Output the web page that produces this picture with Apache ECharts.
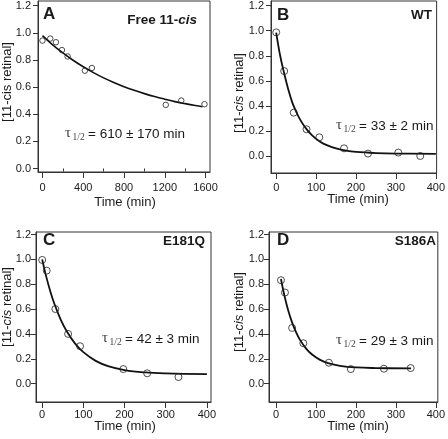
<!DOCTYPE html>
<html>
<head>
<meta charset="utf-8">
<script src="https://cdn.jsdelivr.net/npm/echarts@6/dist/echarts.min.js"></script>
<style>html,body{margin:0;padding:0;background:#fff}#c{width:448px;height:439px}</style>
</head>
<body>
<div id="c"></div>
<script>
// ---- Data ----
// Panel A: Free 11-cis
const aTime = [0, 76, 132, 191, 247, 416, 485, 1210, 1362, 1590];
const aVal  = [0.943, 0.958, 0.931, 0.873, 0.826, 0.721, 0.741, 0.469, 0.501, 0.474];
const aFitTime = [0, 100, 200, 300, 400, 500, 600, 700, 800, 900, 1000, 1100, 1200, 1300, 1400, 1500, 1570];
const aFitVal  = [0.98, 0.912, 0.852, 0.798, 0.750, 0.707, 0.668, 0.634, 0.603, 0.576, 0.552, 0.530, 0.511, 0.493, 0.478, 0.464, 0.455];
// Panel B: WT
const bTime = [0, 20, 44, 76, 108, 170, 230, 306, 361];
const bVal  = [0.987, 0.678, 0.346, 0.213, 0.149, 0.061, 0.019, 0.027, 0.0];
const bFitTime = [0, 10, 20, 30, 40, 50, 60, 75, 90, 110, 130, 150, 175, 200, 250, 300, 400];
const bFitVal  = [0.985, 0.80, 0.66, 0.535, 0.43, 0.355, 0.29, 0.218, 0.165, 0.114, 0.082, 0.06, 0.042, 0.032, 0.023, 0.019, 0.017];
// Panel C: E181Q
const cTime = [0, 11, 32, 63, 92, 197, 255, 331];
const cVal  = [0.995, 0.909, 0.60, 0.40, 0.301, 0.117, 0.083, 0.053];
const cFitTime = [0, 10, 20, 30, 45, 60, 80, 100, 130, 160, 200, 250, 300, 400];
const cFitVal  = [1.0, 0.859, 0.74, 0.639, 0.515, 0.419, 0.322, 0.253, 0.183, 0.141, 0.109, 0.09, 0.082, 0.076];
// Panel D: S186A
const dTime = [12, 22, 40, 68, 132, 187, 270, 337];
const dVal  = [0.832, 0.733, 0.448, 0.325, 0.168, 0.117, 0.12, 0.125];
const dFitTime = [12, 20, 30, 40, 50, 60, 75, 90, 110, 130, 160, 200, 250, 338];
const dFitVal  = [0.842, 0.717, 0.59, 0.491, 0.412, 0.35, 0.282, 0.234, 0.191, 0.165, 0.143, 0.13, 0.125, 0.122];

// Tick labels
const yTicks = [0, 0.2, 0.4, 0.6, 0.8, 1.0, 1.2];
const aXTicks = [0, 400, 800, 1200, 1600];
const aXMinor = [200, 600, 1000, 1400];
const bcdXTicks = [0, 100, 200, 300, 400];

const panelLetters = ['A', 'B', 'C', 'D'];
const panelNames = ['Free 11-', 'WT', 'E181Q', 'S186A'];
const tauTexts = ['= 610 ± 170 min', '= 33 ± 2 min', '= 42 ± 3 min', '= 29 ± 3 min'];

// ---- Build ----
const SANS = '"Liberation Sans", Arial, Helvetica, sans-serif';
const SERIF = '"Liberation Serif", "Times New Roman", serif';
const INK = '#1a1a1a';
const BOX = '#333';

const grids = [
  {left: 38, top: 1, width: 172, height: 171},
  {left: 271, top: 1, width: 169, height: 172},
  {left: 36, top: 232, width: 175, height: 170},
  {left: 269, top: 232, width: 173, height: 170}
].map(g => Object.assign({show: true, borderColor: BOX, borderWidth: 1, backgroundColor: 'transparent'}, g));

const xRanges = [[-44, 1644], [-13, 402], [-15, 410], [-18, 405]];
const yRanges = [[-0.026, 1.235], [-0.136, 1.2375], [-0.148, 1.22], [-0.148, 1.22]];
const xLabelMargin = [10, 9, 7, 7];
const yLabelMargin = [7, 7, 5, 5];

const xAxes = xRanges.map((r, i) => {
  const ticks = i === 0 ? aXTicks : bcdXTicks;
  return {
    gridIndex: i, type: 'value', min: r[0], max: r[1], position: 'bottom',
    axisLine: {show: true, onZero: false, lineStyle: {color: BOX, width: 1}},
    axisTick: {show: true, customValues: ticks, length: 6, lineStyle: {color: BOX}},
    axisLabel: {customValues: ticks, fontSize: 11, color: INK, fontFamily: SANS, margin: xLabelMargin[i],
                formatter: v => String(Math.round(v))},
    splitLine: {show: false}
  };
});
// minor ticks for panel A
xAxes.push({
  gridIndex: 0, type: 'value', min: xRanges[0][0], max: xRanges[0][1], position: 'bottom',
  axisLine: {show: false},
  axisTick: {show: true, customValues: aXMinor, length: 3, lineStyle: {color: BOX}},
  axisLabel: {show: false}, splitLine: {show: false}
});

const yAxes = yRanges.map((r, i) => ({
  gridIndex: i, type: 'value', min: r[0], max: r[1],
  axisLine: {show: true, onZero: false, lineStyle: {color: BOX, width: 1}},
  axisTick: {show: true, customValues: yTicks, length: 5, lineStyle: {color: BOX}},
  axisLabel: {customValues: yTicks, fontSize: 11, color: INK, fontFamily: SANS, margin: yLabelMargin[i],
              formatter: v => v.toFixed(1)},
  splitLine: {show: false}
}));

const pts = [[aTime, aVal], [bTime, bVal], [cTime, cVal], [dTime, dVal]];
const fits = [[aFitTime, aFitVal], [bFitTime, bFitVal], [cFitTime, cFitVal], [dFitTime, dFitVal]];
const zip = (xs, ys) => xs.map((x, k) => [x, ys[k]]);

const series = [];
fits.forEach((f, i) => {
  series.push({
    type: 'line', xAxisIndex: i, yAxisIndex: i, data: zip(f[0], f[1]),
    smooth: 0.4, showSymbol: false, symbol: 'none',
    lineStyle: {color: '#111', width: i === 0 ? 1.6 : 1.8}, z: 2, silent: true
  });
});
pts.forEach((p, i) => {
  series.push({
    type: 'scatter', xAxisIndex: i, yAxisIndex: i, data: zip(p[0], p[1]),
    symbol: 'circle', symbolSize: i === 0 ? 5.5 : 7,
    itemStyle: {color: 'rgba(255,255,255,0)', borderColor: '#222', borderWidth: 1}, z: 3
  });
});

// Text annotations
const graphics = [];
const letterPos = [[43, 14], [277, 15], [43, 240], [277, 240]];
letterPos.forEach((p, i) => graphics.push({
  type: 'text', x: p[0], y: p[1],
  style: {text: panelLetters[i], font: 'bold 17px ' + SANS, fill: INK, verticalAlign: 'middle', align: 'left'}
}));
const namePos = [[197, 20], [432, 15], [205, 241], [436, 241]];
namePos.forEach((p, i) => {
  if (i === 0) {
    graphics.push({type: 'text', x: p[0], y: p[1],
      style: {text: '{n|Free 11-}{i|cis}', align: 'right', verticalAlign: 'middle',
        rich: {n: {font: 'bold 13.5px ' + SANS, fill: INK, color: INK},
               i: {font: 'italic bold 13.5px ' + SANS, fill: INK, color: INK}}}});
  } else {
    graphics.push({type: 'text', x: p[0], y: p[1],
      style: {text: panelNames[i], font: 'bold 13.5px ' + SANS, fill: INK, align: 'right', verticalAlign: 'middle'}});
  }
});
const tauPos = [[65, 134], [336, 126], [102, 339], [336, 341]];
tauPos.forEach((p, i) => {
  graphics.push({type: 'text', x: p[0], y: p[1] - 1,
    style: {text: 'τ', font: '15px ' + SERIF, fill: '#444', verticalAlign: 'middle'}});
  graphics.push({type: 'text', x: p[0] + 7.5, y: p[1] + 3.5,
    style: {text: '1/2', font: '9.5px ' + SERIF, fill: '#444', verticalAlign: 'middle'}});
  graphics.push({type: 'text', x: p[0] + 23, y: p[1],
    style: {text: tauTexts[i], font: '13.5px ' + SANS, fill: INK, verticalAlign: 'middle'}});
});
const xTitlePos = [[125, 202], [358, 199], [125, 426], [358, 426]];
xTitlePos.forEach(p => graphics.push({type: 'text', x: p[0], y: p[1],
  style: {text: 'Time (min)', font: '13px ' + SANS, fill: INK, align: 'center', verticalAlign: 'middle'}}));
const yTitlePos = [[7, 82], [239, 93], [7, 307], [239, 312]];
yTitlePos.forEach((p, i) => graphics.push({type: 'text', x: p[0], y: p[1], rotation: Math.PI / 2,
  style: {text: i === 0 ? '[11-cis retinal]' : '{n|[11-}{i|cis}{n| retinal]}',
    font: '13px ' + SANS, fill: INK, align: 'center', verticalAlign: 'middle',
    rich: {n: {font: '13px ' + SANS, fill: INK, color: INK}, i: {font: 'italic 13px ' + SANS, fill: INK, color: INK}}}}));

const chart = echarts.init(document.getElementById('c'), null, {renderer: 'canvas'});
chart.setOption({
  animation: false,
  backgroundColor: '#fff',
  grid: grids,
  xAxis: xAxes,
  yAxis: yAxes,
  series: series,
  graphic: graphics
});
</script>
</body>
</html>
